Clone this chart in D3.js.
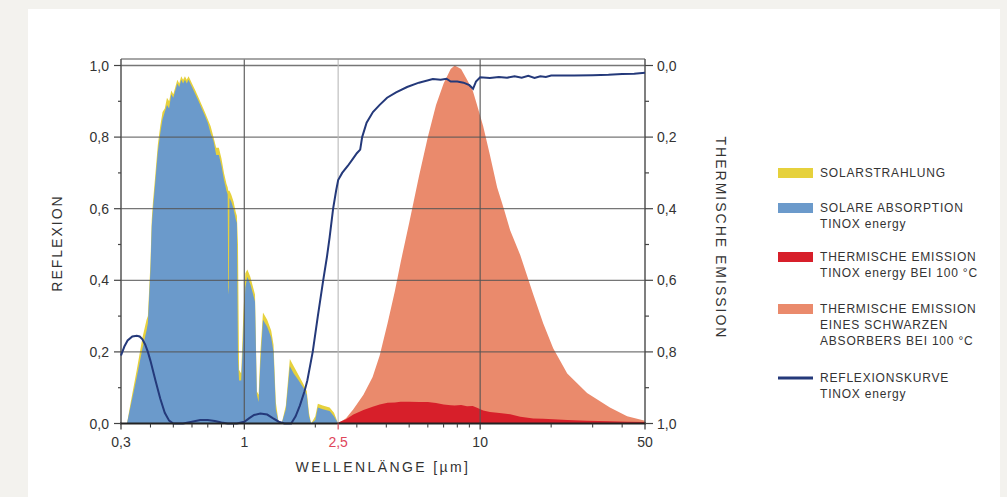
<!DOCTYPE html>
<html>
<head>
<meta charset="utf-8">
<script src="https://d3js.org/d3.v7.min.js"></script>
<style>
  html, body { margin: 0; padding: 0; background: #f3f2ee; }
  svg { display: block; }
  text { font-family: "Liberation Sans", Arial, sans-serif; fill: #333; }
</style>
</head>
<body>
<svg></svg>
<script>
// wavelength [µm] for the solar curves
const solarWl = [0.30, 0.318, 0.33, 0.35, 0.37, 0.385, 0.39, 0.40, 0.405, 0.41, 0.42, 0.43, 0.44, 0.45, 0.46, 0.47, 0.48, 0.49, 0.50, 0.51, 0.52, 0.53, 0.54, 0.55, 0.56, 0.57, 0.58, 0.59, 0.60, 0.62, 0.64, 0.66, 0.68, 0.70, 0.72, 0.74, 0.76, 0.78, 0.80, 0.82, 0.84, 0.85, 0.855, 0.86, 0.865, 0.88, 0.90, 0.92, 0.93, 0.94, 0.95, 0.97, 0.99, 1.01, 1.03, 1.06, 1.09, 1.11, 1.13, 1.15, 1.17, 1.20, 1.25, 1.30, 1.33, 1.36, 1.40, 1.44, 1.50, 1.56, 1.62, 1.70, 1.78, 1.84, 1.88, 1.92, 2.00, 2.05, 2.15, 2.30, 2.40, 2.50];
const solarRadiation = [0, 0, 0.06, 0.15, 0.24, 0.29, 0.30, 0.45, 0.57, 0.62, 0.70, 0.78, 0.83, 0.87, 0.88, 0.91, 0.90, 0.93, 0.92, 0.94, 0.96, 0.95, 0.97, 0.96, 0.97, 0.96, 0.97, 0.96, 0.95, 0.93, 0.91, 0.89, 0.87, 0.85, 0.83, 0.80, 0.77, 0.77, 0.74, 0.70, 0.67, 0.66, 0.65, 0.65, 0.65, 0.64, 0.62, 0.59, 0.58, 0.50, 0.15, 0.14, 0.30, 0.42, 0.43, 0.41, 0.38, 0.36, 0.09, 0.08, 0.20, 0.31, 0.29, 0.26, 0.22, 0.06, 0.0, 0.0, 0.05, 0.18, 0.16, 0.135, 0.11, 0.09, 0.03, 0.0, 0.02, 0.055, 0.05, 0.045, 0.03, 0.0];
const solarAbsorption = [0, 0, 0.05, 0.13, 0.21, 0.26, 0.28, 0.43, 0.55, 0.60, 0.68, 0.76, 0.81, 0.85, 0.87, 0.89, 0.88, 0.92, 0.91, 0.93, 0.95, 0.94, 0.96, 0.95, 0.96, 0.95, 0.96, 0.95, 0.94, 0.92, 0.90, 0.88, 0.86, 0.84, 0.81, 0.79, 0.75, 0.75, 0.72, 0.68, 0.65, 0.64, 0.36, 0.38, 0.63, 0.62, 0.60, 0.57, 0.56, 0.18, 0.12, 0.12, 0.25, 0.38, 0.41, 0.39, 0.36, 0.34, 0.08, 0.06, 0.17, 0.29, 0.27, 0.24, 0.20, 0.04, 0.0, 0.0, 0.04, 0.16, 0.14, 0.12, 0.10, 0.08, 0.02, 0.0, 0.01, 0.045, 0.04, 0.035, 0.02, 0.0];

// thermal emission (black body and TINOX energy) at 100 °C
const thermalWl = [2.5, 2.7, 2.9, 3.2, 3.5, 3.75, 4.05, 4.35, 4.6, 5.0, 5.5, 6.0, 6.5, 7.0, 7.5, 7.8, 8.3, 8.8, 9.3, 9.7, 10.3, 11.0, 11.8, 12.6, 13.4, 14.8, 16.8, 18.5, 20.4, 23.4, 28.4, 35.5, 42, 50];
const blackBody = [0.0, 0.015, 0.04, 0.08, 0.13, 0.19, 0.28, 0.37, 0.45, 0.56, 0.69, 0.80, 0.89, 0.95, 0.99, 1.0, 0.99, 0.96, 0.93, 0.89, 0.83, 0.75, 0.66, 0.60, 0.54, 0.47, 0.36, 0.28, 0.21, 0.14, 0.085, 0.045, 0.02, 0.008];
const tinoxEmission = [0.003, 0.012, 0.025, 0.038, 0.047, 0.053, 0.058, 0.059, 0.061, 0.061, 0.060, 0.060, 0.057, 0.053, 0.051, 0.050, 0.052, 0.048, 0.049, 0.044, 0.036, 0.032, 0.030, 0.028, 0.026, 0.019, 0.014, 0.013, 0.012, 0.010, 0.008, 0.006, 0.005, 0.004];

// reflection curve TINOX energy
const reflWl = [0.30, 0.31, 0.32, 0.335, 0.35, 0.36, 0.37, 0.38, 0.39, 0.40, 0.42, 0.44, 0.46, 0.48, 0.50, 0.55, 0.60, 0.65, 0.70, 0.75, 0.80, 0.85, 0.93, 1.00, 1.05, 1.10, 1.17, 1.25, 1.32, 1.40, 1.48, 1.58, 1.65, 1.72, 1.80, 1.85, 1.95, 2.05, 2.16, 2.24, 2.30, 2.38, 2.45, 2.50, 2.60, 2.75, 2.89, 3.00, 3.10, 3.16, 3.30, 3.51, 3.75, 4.03, 4.40, 4.90, 5.50, 6.30, 6.80, 7.20, 7.50, 8.00, 8.50, 9.00, 9.33, 9.60, 10.0, 11, 12, 13, 14, 15, 16, 17, 18, 19, 20, 25, 30, 35, 40, 45, 50];
const reflection = [0.19, 0.215, 0.232, 0.243, 0.245, 0.243, 0.235, 0.22, 0.20, 0.175, 0.12, 0.07, 0.03, 0.008, 0.0, 0.0, 0.005, 0.01, 0.01, 0.007, 0.003, 0.0, 0.0, 0.005, 0.015, 0.024, 0.028, 0.025, 0.015, 0.005, 0.0, 0.0, 0.02, 0.05, 0.09, 0.12, 0.20, 0.30, 0.40, 0.465, 0.52, 0.60, 0.65, 0.68, 0.70, 0.72, 0.74, 0.755, 0.765, 0.80, 0.84, 0.87, 0.89, 0.91, 0.925, 0.94, 0.952, 0.962, 0.960, 0.963, 0.955, 0.955, 0.952, 0.945, 0.935, 0.955, 0.967, 0.965, 0.968, 0.966, 0.970, 0.966, 0.971, 0.965, 0.970, 0.968, 0.972, 0.972, 0.973, 0.974, 0.976, 0.977, 0.980];

const xTicks = [0.3, 1, 2.5, 10, 50];
const xTickLabels = ["0,3", "1", "2,5", "10", "50"];
const yTicks = [0, 0.2, 0.4, 0.6, 0.8, 1.0];

const legendItems = [
  { color: "#e6d13c", kind: "area", lines: ["SOLARSTRAHLUNG"] },
  { color: "#6b9acb", kind: "area", lines: ["SOLARE ABSORPTION", "TINOX energy"] },
  { color: "#d71f2a", kind: "area", lines: ["THERMISCHE EMISSION", "TINOX energy BEI 100 °C"] },
  { color: "#ea8a6c", kind: "area", lines: ["THERMISCHE EMISSION", "EINES SCHWARZEN", "ABSORBERS BEI 100 °C"] },
  { color: "#24397a", kind: "line", lines: ["REFLEXIONSKURVE", "TINOX energy"] }
];

const width = 1007, height = 497;
const svg = d3.select("svg").attr("width", width).attr("height", height);

svg.append("rect").attr("x", 28).attr("y", 9).attr("width", 972).attr("height", height - 9).attr("fill", "#fff");

const x = d3.scaleLog().domain([0.3, 50]).range([121, 645]);
const y = d3.scaleLinear().domain([0, 1]).range([423.5, 65.5]);
const yRight = d3.scaleLinear().domain([0, 1]).range([65.5, 423.5]);

const zip = (a, b) => a.map((v, i) => [v, b[i]]);
const area = d3.area().x(d => x(d[0])).y0(y(0)).y1(d => y(d[1]));

svg.append("path").attr("d", area(zip(solarWl, solarRadiation))).attr("fill", "#e6d13c");
svg.append("path").attr("d", area(zip(solarWl, solarAbsorption))).attr("fill", "#6b9acb");
svg.append("path").attr("d", area(zip(thermalWl, blackBody))).attr("fill", "#ea8a6c");
svg.append("path").attr("d", area(zip(thermalWl, tinoxEmission))).attr("fill", "#d71f2a");

// grid
const grid = svg.append("g");
grid.selectAll("line.h").data(yTicks.slice(1)).enter().append("line")
  .attr("x1", x(0.3)).attr("x2", x(50))
  .attr("y1", d => y(d)).attr("y2", d => y(d))
  .attr("stroke", "#555").attr("stroke-width", 1.3).attr("opacity", 0.8);
grid.selectAll("line.v").data([1, 2.5, 10]).enter().append("line")
  .attr("x1", d => x(d)).attr("x2", d => x(d))
  .attr("y1", 59).attr("y2", y(0))
  .attr("stroke", d => d === 2.5 ? "#bbb" : "#555").attr("stroke-width", 1.3).attr("opacity", 0.85);

// frame
svg.append("line").attr("x1", x(0.3)).attr("x2", x(50)).attr("y1", 59).attr("y2", 59).attr("stroke", "#888").attr("stroke-width", 1.5);
svg.append("line").attr("x1", x(0.3)).attr("x2", x(0.3)).attr("y1", 59).attr("y2", y(0)).attr("stroke", "#555").attr("stroke-width", 1.5);
svg.append("line").attr("x1", x(50)).attr("x2", x(50)).attr("y1", 59).attr("y2", y(0)).attr("stroke", "#555").attr("stroke-width", 1.5);

// reflection curve
svg.append("path")
  .attr("d", d3.line().x(d => x(d[0])).y(d => y(d[1]))(zip(reflWl, reflection)))
  .attr("fill", "none").attr("stroke", "#24397a").attr("stroke-width", 2);

// bottom axis
svg.append("line").attr("x1", x(0.3) - 1).attr("x2", x(50) + 1).attr("y1", y(0)).attr("y2", y(0)).attr("stroke", "#222").attr("stroke-width", 2);
const minorX = [0.4, 0.5, 0.6, 0.7, 0.8, 0.9, 2, 3, 4, 5, 6, 7, 8, 9, 20, 30, 40];
svg.selectAll("line.mx").data(minorX).enter().append("line")
  .attr("x1", d => x(d)).attr("x2", d => x(d)).attr("y1", y(0)).attr("y2", y(0) + 4)
  .attr("stroke", "#333").attr("stroke-width", 1);
svg.selectAll("line.Mx").data(xTicks).enter().append("line")
  .attr("x1", d => x(d)).attr("x2", d => x(d)).attr("y1", y(0)).attr("y2", y(0) + 6)
  .attr("stroke", d => d === 2.5 ? "#d94a5a" : "#333").attr("stroke-width", 1.2);
svg.selectAll("text.xl").data(xTicks).enter().append("text")
  .attr("x", d => x(d)).attr("y", 447).attr("text-anchor", "middle")
  .attr("font-size", 14)
  .style("fill", d => d === 2.5 ? "#e0455a" : "#333")
  .text((d, i) => xTickLabels[i]);
svg.append("text").attr("x", 383).attr("y", 472).attr("text-anchor", "middle")
  .attr("font-size", 14).attr("letter-spacing", 2.4).text("WELLENLÄNGE [µm]");

// left axis
const minorY = d3.range(1, 10, 2).map(d => d / 10);
const left = svg.append("g");
left.selectAll("line.t").data(yTicks).enter().append("line")
  .attr("x1", x(0.3) - 7).attr("x2", x(0.3)).attr("y1", d => y(d)).attr("y2", d => y(d))
  .attr("stroke", "#444").attr("stroke-width", 1.2);
left.selectAll("line.m").data(minorY).enter().append("line")
  .attr("x1", x(0.3) - 3).attr("x2", x(0.3)).attr("y1", d => y(d)).attr("y2", d => y(d))
  .attr("stroke", "#444").attr("stroke-width", 1.2);
left.selectAll("text").data(yTicks).enter().append("text")
  .attr("x", 109).attr("y", d => y(d) + 5).attr("text-anchor", "end").attr("font-size", 14)
  .text(d => d3.format(".1f")(d).replace(".", ","));
svg.append("text").attr("transform", "translate(62,243) rotate(-90)").attr("text-anchor", "middle")
  .attr("font-size", 14).attr("letter-spacing", 2).text("REFLEXION");

// right axis
const right = svg.append("g");
right.selectAll("line.t").data(yTicks).enter().append("line")
  .attr("x1", x(50)).attr("x2", x(50) + 8).attr("y1", d => yRight(d)).attr("y2", d => yRight(d))
  .attr("stroke", "#444").attr("stroke-width", 1.2);
right.selectAll("line.m").data(minorY).enter().append("line")
  .attr("x1", x(50)).attr("x2", x(50) + 4).attr("y1", d => yRight(d)).attr("y2", d => yRight(d))
  .attr("stroke", "#444").attr("stroke-width", 1.2);
right.selectAll("text").data(yTicks).enter().append("text")
  .attr("x", 657).attr("y", d => yRight(d) + 5).attr("font-size", 14)
  .text(d => d3.format(".1f")(d).replace(".", ","));
svg.append("text").attr("transform", "translate(716,238) rotate(90)").attr("text-anchor", "middle")
  .attr("font-size", 14).attr("letter-spacing", 2).text("THERMISCHE EMISSION");

// legend
const legendTop = [173, 208, 257, 309, 378];
const lg = svg.append("g");
legendItems.forEach((it, i) => {
  const ty = legendTop[i];
  if (it.kind === "area") {
    lg.append("rect").attr("x", 778).attr("y", ty - 5).attr("width", 35).attr("height", 10).attr("fill", it.color);
  } else {
    lg.append("rect").attr("x", 778).attr("y", ty - 1.5).attr("width", 35).attr("height", 3).attr("fill", it.color);
  }
  it.lines.forEach((ln, j) => {
    lg.append("text").attr("x", 820).attr("y", ty + 4 + j * 16).attr("font-size", 12)
      .attr("letter-spacing", 0.8).text(ln);
  });
});
</script>
</body>
</html>
